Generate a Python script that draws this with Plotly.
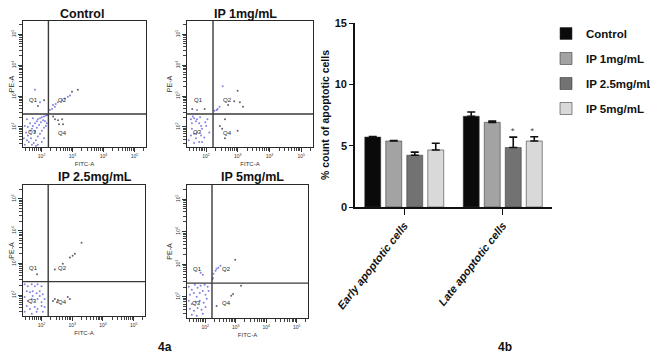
import plotly.graph_objects as go
import numpy as np

# ---------------- Flow cytometry dot plots (log10 fluorescence) ----------------
ctrl_blue_x = [1.46, 1.53, 1.56, 1.63, 1.69, 1.72, 1.79, 1.85, 1.88, 1.95, 2.01, 2.08, 2.14, 2.18,
               1.50, 1.59, 1.66, 1.75, 1.82, 1.88, 1.95, 2.01, 2.08, 2.14, 1.79, 1.85, 1.92, 1.98,
               2.05, 2.11, 1.63, 1.56, 1.46, 1.53, 1.69, 1.43, 1.88, 2.01, 1.82, 2.08, 2.17, 1.72,
               2.34, 2.37, 2.46, 2.53, 2.66, 2.75, 2.85, 2.92, 2.43, 2.27, 1.79, 1.95]
ctrl_blue_y = [1.42, 1.57, 1.72, 1.88, 1.94, 2.03, 2.12, 2.18, 2.25, 2.28, 2.31, 2.34, 2.37, 2.38,
               1.82, 1.51, 1.63, 1.48, 1.57, 1.69, 1.78, 1.88, 1.97, 2.03, 1.85, 1.97, 2.06, 2.15,
               2.22, 2.18, 2.12, 2.00, 2.03, 2.25, 1.42, 1.63, 1.42, 1.51, 1.38, 1.63, 2.12, 2.28,
               2.58, 2.71, 2.74, 2.80, 2.86, 2.92, 2.98, 3.02, 2.65, 2.55, 3.20, 2.80]
ctrl_dark_x = [2.08, 1.88, 2.98, 3.17, 2.43, 2.53, 2.66, 2.69, 2.56, 2.37]
ctrl_dark_y = [2.86, 2.68, 3.14, 3.20, 2.25, 2.22, 2.25, 2.09, 2.09, 2.34]

ip1_blue_x = [1.53, 1.56, 1.63, 1.69, 1.72, 1.79, 1.85, 1.88, 1.72, 1.63, 1.56, 1.53, 1.69, 1.85,
              1.95, 2.05, 2.01, 1.79, 1.63, 1.88, 2.11, 1.46, 1.59, 1.82, 1.98,
              2.37, 2.43, 2.34, 2.53, 2.27, 1.72]
ip1_blue_y = [2.25, 2.12, 2.28, 2.18, 2.25, 2.12, 2.03, 1.94, 1.82, 1.78, 1.94, 1.72, 1.63, 1.72,
              1.66, 2.25, 2.03, 1.51, 1.48, 1.51, 1.82, 1.57, 2.34, 2.31, 2.15,
              2.58, 2.65, 2.55, 3.32, 2.52, 2.55]
ip1_dark_x = [1.95, 1.56, 2.99, 3.06, 3.16, 2.69, 2.88, 2.59, 2.43, 2.50, 2.99, 2.59]
ip1_dark_y = [2.58, 2.58, 3.17, 2.80, 2.65, 2.71, 2.83, 2.25, 2.03, 1.94, 1.88, 1.63]

ip25_blue_x = [1.46, 1.56, 1.69, 1.79, 1.88, 2.01, 1.53, 1.63, 1.72, 1.85, 1.95, 2.05, 1.46, 1.56,
               1.69, 1.88, 2.01, 2.11, 1.53, 1.63, 1.79, 1.88, 2.01, 2.11, 1.46, 1.69, 1.85, 2.05,
               1.72, 1.95]
ip25_blue_y = [2.34, 2.28, 2.34, 2.28, 2.34, 2.28, 2.12, 2.09, 2.12, 2.06, 2.12, 2.03, 1.94, 1.82,
               1.88, 1.88, 1.78, 1.88, 1.66, 1.57, 1.63, 1.57, 1.66, 1.63, 1.48, 1.42, 1.48, 1.48,
               1.97, 1.97]
ip25_dark_x = [2.37, 2.43, 2.53, 2.85, 2.92, 2.50, 3.30, 3.01, 2.92, 3.08, 2.69, 2.43, 1.85]
ip25_dark_y = [1.82, 1.88, 1.85, 1.94, 1.88, 1.78, 3.63, 3.23, 3.17, 3.29, 2.98, 2.80, 2.65]

ip5_blue_x = [1.46, 1.56, 1.66, 1.75, 1.85, 1.98, 2.08, 1.50, 1.63, 1.72, 1.82, 1.92, 2.01, 2.11,
              1.46, 1.56, 1.69, 1.82, 1.95, 2.05, 1.50, 1.63, 1.75, 1.88, 2.01, 1.56, 1.72, 1.92,
              2.25, 2.27, 2.34, 2.37, 2.43, 2.50, 2.24, 1.85, 1.92]
ip5_blue_y = [2.31, 2.22, 2.37, 2.28, 2.34, 2.37, 2.31, 2.06, 2.12, 2.00, 2.12, 2.18, 2.06, 2.18,
              1.88, 1.78, 1.85, 1.88, 1.82, 1.94, 1.63, 1.57, 1.66, 1.60, 1.69, 1.45, 1.42, 1.48,
              2.58, 2.71, 2.80, 2.86, 2.89, 2.95, 2.55, 2.74, 2.68]
ip5_dark_x = [2.98, 2.37, 2.85, 2.91, 3.17]
ip5_dark_y = [3.14, 1.72, 2.03, 2.09, 2.34]

panel_titles = ["Control", "IP 1mg/mL", "IP 2.5mg/mL", "IP 5mg/mL"]
gate_x = 2.22
gate_y = 2.42
quad_labels = ["Q1", "Q2", "Q3", "Q4"]
quad_x = [1.75, 2.69, 1.72, 2.69]
quad_y = [2.86, 2.86, 1.82, 1.80]
decades = [2, 3, 4, 5]
decade_text = ["10<sup>2</sup>", "10<sup>3</sup>", "10<sup>4</sup>", "10<sup>5</sup>"]

# ---------------- Bar chart data ----------------
bar_categories = ["Early apoptotic cells", "Late apoptotic cells"]
groups = ["Control", "IP 1mg/mL", "IP 2.5mg/mL", "IP 5mg/mL"]
values = {
    "Control":     [5.70, 7.40],
    "IP 1mg/mL":   [5.38, 6.90],
    "IP 2.5mg/mL": [4.22, 4.85],
    "IP 5mg/mL":   [4.65, 5.38],
}
errors = {
    "Control":     [0.05, 0.35],
    "IP 1mg/mL":   [0.03, 0.10],
    "IP 2.5mg/mL": [0.25, 0.85],
    "IP 5mg/mL":   [0.55, 0.35],
}
bar_colors = ["#0a0a0a", "#a3a3a3", "#727272", "#d9d9d9"]
signif_groups = ["IP 2.5mg/mL", "IP 5mg/mL"]
signif_y = 6.15
y_ticks = [0, 5, 10, 15]

FONT = "Liberation Sans, Arial, sans-serif"
NARROW = "Liberation Sans Narrow, Arial Narrow, Liberation Sans, sans-serif"

# page body has an 8px margin: figure is 650x348 placed at (8, 8) of the 658x356 window
W, H, OFF = 650, 348, 8


def fx(p):
    return (p - OFF) / W


def fy(p):
    return 1 - (p - OFF) / H


fig = go.Figure()

scatter_sets = [
    (ctrl_blue_x, ctrl_blue_y, ctrl_dark_x, ctrl_dark_y),
    (ip1_blue_x, ip1_blue_y, ip1_dark_x, ip1_dark_y),
    (ip25_blue_x, ip25_blue_y, ip25_dark_x, ip25_dark_y),
    (ip5_blue_x, ip5_blue_y, ip5_dark_x, ip5_dark_y),
]
# panel boxes in window pixels: (left, right, top, bottom)
boxes = [(23, 146, 21, 147), (187, 313, 21, 147), (23, 145, 185, 316), (187, 308, 185, 318)]
title_pos = [(82, 14), (245, 14), (95, 177), (252, 177)]

minor_vals = [np.log10(m * 10 ** d) for d in range(1, 6) for m in range(2, 10)]

for i, (bx, by, dx, dy) in enumerate(scatter_sets):
    n = i + 1
    xa = "x" if n == 1 else f"x{n}"
    ya = "y" if n == 1 else f"y{n}"
    fig.add_trace(go.Scatter(x=bx, y=by, mode="markers", xaxis=xa, yaxis=ya, showlegend=False,
                             marker=dict(size=2, color="rgba(100,100,220,0.8)")))
    fig.add_trace(go.Scatter(x=dx, y=dy, mode="markers", xaxis=xa, yaxis=ya, showlegend=False,
                             marker=dict(size=2, color="rgba(60,60,70,0.8)")))
    l, r, t, b = boxes[i]
    axis_common = dict(showline=True, mirror=True, linecolor="#2a2a2a", linewidth=1.2,
                       showgrid=False, zeroline=False, ticks="outside", ticklen=4,
                       tickcolor="#333", tickwidth=1, tickvals=decades, ticktext=decade_text,
                       tickfont=dict(size=5, family=FONT, color="#333"),
                       minor=dict(tickvals=minor_vals, ticks="outside", ticklen=2.5,
                                  tickcolor="#444", tickwidth=0.8))
    fig.layout[f"xaxis{'' if n == 1 else n}"] = dict(
        axis_common, domain=[fx(l), fx(r)], range=[1.4, 5.37], anchor=ya,
        title=dict(text="FITC-A", font=dict(size=6, family=FONT, color="#333"), standoff=3))
    fig.layout[f"yaxis{'' if n == 1 else n}"] = dict(
        axis_common, domain=[fy(b), fy(t)], range=[1.35, 5.43], anchor=xa, tickangle=-90,
        title=dict(text="PE-A", font=dict(size=7, family=FONT, color="#333"), standoff=1))
    fig.add_shape(type="line", xref=xa, yref=f"{ya} domain", x0=gate_x, x1=gate_x, y0=0, y1=1,
                  line=dict(color="#3a3a3a", width=1.4))
    fig.add_shape(type="line", xref=f"{xa} domain", yref=ya, x0=0, x1=1, y0=gate_y, y1=gate_y,
                  line=dict(color="#3a3a3a", width=1.4))
    for q, qx, qy in zip(quad_labels, quad_x, quad_y):
        fig.add_annotation(x=qx, y=qy, xref=xa, yref=ya, text=q, showarrow=False,
                           font=dict(size=6, family=FONT, color="#222"))
    tx, ty = title_pos[i]
    fig.add_annotation(x=fx(tx), y=fy(ty), xref="paper", yref="paper", xanchor="center",
                       yanchor="middle", text=f"<b>{panel_titles[i]}</b>", showarrow=False,
                       font=dict(size=12.5, family=FONT, color="#111"))

# ---------------- Bar chart ----------------
for g, c in zip(groups, bar_colors):
    fig.add_trace(go.Bar(
        x=bar_categories, y=values[g], name=g, xaxis="x5", yaxis="y5", offsetgroup=g,
        marker=dict(color=c, line=dict(color="rgba(50,50,50,0.7)", width=0.8)),
        error_y=dict(type="data", array=errors[g], arrayminus=[0] * len(errors[g]),
                     symmetric=False, color="#111", thickness=1.6, width=4),
        legendgroup=g,
    ))

for g in groups:
    fig.add_trace(go.Scatter(
        x=[bar_categories[1]], y=[signif_y], xaxis="x5", yaxis="y5", mode="text",
        text=["*" if g in signif_groups else ""], textfont=dict(size=7, color="#333"),
        showlegend=False, offsetgroup=g, hoverinfo="skip"))

fig.update_layout(
    xaxis5=dict(domain=[fx(355), fx(552)], anchor="y5", showline=True, linecolor="#111",
                linewidth=1.6, ticks="outside", ticklen=6, tickcolor="#111", tickwidth=1.4,
                tickangle=-52, showgrid=False,
                tickfont=dict(size=11, family=FONT, color="#111", weight="bold",
                              style="italic")),
    yaxis5=dict(domain=[fy(207), fy(23)], anchor="x5", range=[0, 15], tickvals=y_ticks,
                showline=True, linecolor="#111", linewidth=1.6, ticks="outside", ticklen=4,
                tickcolor="#111", tickwidth=1.4, showgrid=False, zeroline=False,
                tickfont=dict(size=11, family=NARROW, color="#111", weight="bold"),
                title=dict(text="% count of apoptotic cells", standoff=3,
                           font=dict(size=10.5, family=FONT, color="#111", weight="bold"))),
    barmode="group", bargap=0.147, bargroupgap=0.24,
    scattermode="group",
    legend=dict(x=fx(546), y=fy(19), xanchor="left", yanchor="top", tracegroupgap=6,
                font=dict(size=11.5, family=FONT, color="#111", weight="bold"),
                bgcolor="rgba(0,0,0,0)"),
    width=W, height=H, margin=dict(l=0, r=0, t=0, b=0, autoexpand=False),
    paper_bgcolor="white", plot_bgcolor="white",
)

fig.add_annotation(x=fx(165), y=fy(347), xref="paper", yref="paper", text="<b>4a</b>",
                   xanchor="center", yanchor="middle",
                   showarrow=False, font=dict(size=12, family=FONT, color="#111"))
fig.add_annotation(x=fx(505), y=fy(347), xref="paper", yref="paper", text="<b>4b</b>",
                   xanchor="center", yanchor="middle",
                   showarrow=False, font=dict(size=12, family=FONT, color="#111"))

fig.write_html("out.html")
